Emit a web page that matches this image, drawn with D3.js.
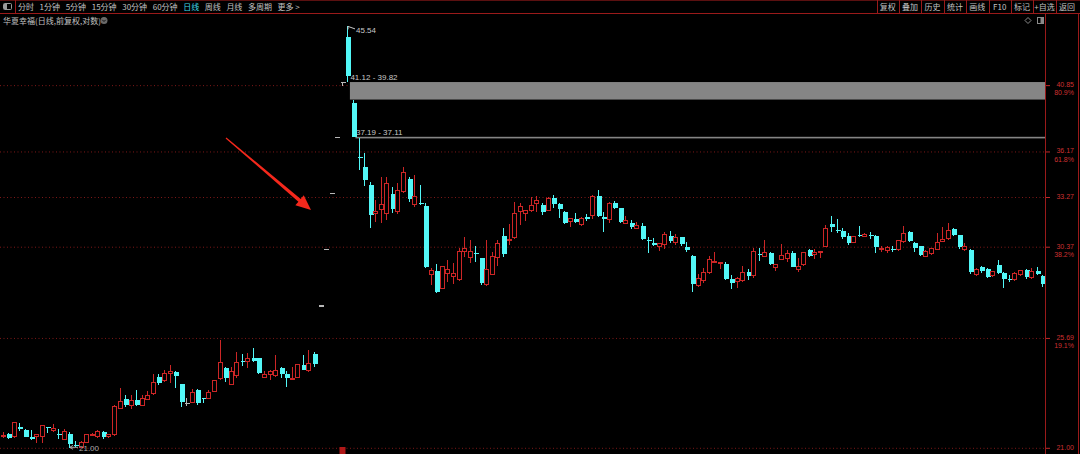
<!DOCTYPE html>
<html><head><meta charset="utf-8">
<script src="https://cdn.jsdelivr.net/npm/d3@7"></script>
<style>
html,body{margin:0;padding:0;background:#000;overflow:hidden}
svg{display:block}
</style></head><body>
<svg id="chart" width="1080" height="454"></svg>
<script>
// ---------- data ----------
const opens = [
21.44,21.56,21.44,21.84,21.73,21.44,21.44,21.44,21.83,21.68,
21.57,21.33,21.55,21.14,21.05,21.24,21.51,21.44,21.64,21.47,
21.53,22.58,23.00,22.73,22.94,22.73,22.98,23.21,23.95,23.76,
24.08,24.17,23.62,22.81,22.84,23.37,23.02,23.02,23.30,23.87,
24.34,23.62,23.99,24.64,24.64,24.80,24.77,23.93,24.05,23.99,
24.34,24.06,23.86,23.92,24.47,24.21,24.97,27.27,30.26,33.53,
37.16,41.12,44.64,39.55,35.86,35.20,34.05,32.28,32.52,32.28,
33.49,32.42,33.63,34.40,32.82,32.92,32.76,28.87,29.09,28.17,
28.95,28.77,28.60,30.13,29.82,30.04,29.76,28.34,28.90,29.82,
31.02,30.72,30.93,32.42,32.33,32.48,32.92,32.82,32.48,33.22,
32.88,32.42,31.83,31.99,31.64,32.09,32.17,33.36,32.13,31.97,
32.92,32.62,31.74,31.77,31.45,31.58,30.78,30.63,30.41,30.50,
31.02,30.65,30.93,30.37,29.89,28.29,28.55,28.99,29.56,29.49,
29.44,28.65,28.51,28.55,29.04,28.81,29.98,29.85,30.04,29.27,
29.72,29.76,30.04,29.17,29.40,30.22,29.95,30.10,30.41,31.70,
31.35,31.31,31.00,30.63,31.08,30.97,31.08,31.02,30.24,30.18,
30.29,30.22,30.69,31.25,30.63,30.41,29.85,30.00,30.27,30.69,
30.84,31.39,31.04,30.22,30.22,28.87,29.31,29.18,28.81,29.40,
28.99,28.65,28.60,28.87,29.13,28.72,29.09,28.81];
const highs = [
21.64,21.60,22.04,22.01,21.75,21.71,21.57,21.91,21.83,21.97,
21.77,21.77,21.64,21.28,21.27,21.57,21.60,21.71,21.68,21.57,
22.73,23.46,23.15,23.17,23.36,23.17,23.32,24.08,24.08,24.26,
24.47,24.20,23.63,23.05,23.41,23.40,23.05,23.37,23.80,25.62,
24.36,24.39,25.07,24.97,25.00,25.23,24.80,24.20,24.24,24.92,
24.36,24.20,24.39,24.51,24.92,25.15,25.07,27.27,30.26,33.53,
37.16,41.12,45.54,39.82,37.11,36.12,34.25,33.12,34.57,34.57,
33.94,34.15,35.17,34.57,34.68,34.05,32.96,29.24,29.45,29.35,
29.69,29.49,30.31,30.93,30.78,30.44,29.80,30.78,30.13,30.78,
31.45,31.70,33.02,32.96,32.52,33.32,33.36,32.92,33.29,33.42,
32.92,32.46,32.03,32.33,32.08,32.27,33.41,33.73,32.38,33.02,
33.08,32.66,32.14,31.93,31.83,31.77,30.93,30.88,30.63,31.22,
31.29,31.10,30.97,30.65,29.93,28.92,29.22,29.89,30.13,29.58,
29.58,28.87,28.74,29.35,29.18,30.35,30.35,30.78,30.13,29.44,
30.54,30.22,30.18,29.76,30.13,30.26,30.26,30.13,31.64,32.17,
31.97,31.45,31.20,31.00,31.58,31.16,31.25,31.06,30.41,30.44,
30.46,30.74,31.58,31.29,30.65,30.44,30.22,30.35,31.20,31.54,
31.74,31.45,31.06,30.63,30.26,29.22,29.35,29.22,29.09,29.67,
29.01,28.87,29.04,29.09,29.17,29.22,29.31,28.87];
const lows = [
21.41,21.37,21.41,21.69,21.43,21.31,21.20,21.21,21.61,21.64,
21.37,21.31,21.00,21.04,21.02,21.21,21.47,21.41,21.37,21.41,
21.48,22.56,22.67,22.58,22.69,22.70,22.95,23.17,23.60,23.71,
23.66,23.44,22.64,22.70,22.81,22.74,22.81,22.99,23.27,23.80,
23.73,23.59,23.90,24.43,24.34,24.61,24.06,23.87,23.80,23.95,
23.87,23.51,23.86,23.89,24.23,24.17,24.36,27.27,30.26,33.53,
37.16,40.85,41.12,37.19,34.99,33.98,31.45,31.83,31.74,31.93,
32.32,32.28,33.53,33.02,32.72,32.82,29.22,28.34,27.94,28.13,
28.47,28.39,28.56,29.85,29.52,29.58,28.34,28.29,28.87,29.35,
29.85,30.50,30.82,31.64,31.89,32.42,32.42,32.22,32.44,32.62,
32.03,31.70,31.54,31.77,31.58,31.87,31.97,32.13,31.25,31.74,
32.56,31.74,31.67,31.39,31.39,30.78,30.04,30.41,30.18,30.26,
30.63,30.50,30.44,30.13,27.99,28.25,28.46,28.92,29.49,29.17,
28.60,28.12,28.17,28.51,28.60,28.69,29.63,29.82,29.40,29.09,
29.67,29.58,29.28,29.04,29.36,29.82,29.71,29.76,30.37,31.25,
31.20,30.82,30.50,30.59,30.93,30.93,30.84,30.04,30.13,30.07,
30.13,30.18,30.63,30.69,30.13,29.89,29.82,29.95,30.22,30.65,
30.78,31.00,30.26,30.18,28.92,28.81,28.99,28.69,28.77,28.90,
28.17,28.51,28.55,28.81,28.64,28.64,28.87,28.22];
const closes = [
21.51,21.40,22.00,21.75,21.44,21.37,21.55,21.88,21.80,21.77,
21.51,21.64,21.17,21.07,21.24,21.55,21.53,21.64,21.44,21.55,
22.66,22.90,22.73,22.94,22.73,23.00,23.12,23.71,23.68,24.09,
24.17,23.96,22.88,22.81,23.27,22.81,22.98,23.27,23.76,24.59,
23.87,24.17,24.57,24.61,24.77,24.66,24.09,24.05,24.17,24.20,
24.06,23.90,23.89,24.47,24.25,24.54,24.50,27.27,30.26,33.53,
37.16,41.12,41.60,37.21,35.75,34.36,32.22,32.42,32.82,34.11,
32.56,33.73,34.82,33.16,33.32,32.86,29.28,29.09,27.99,29.29,
29.13,28.92,30.13,30.31,30.13,29.98,28.43,29.17,29.85,30.56,
29.98,30.78,32.33,32.72,32.46,32.80,33.06,32.38,33.18,32.86,
32.56,31.74,31.99,31.81,32.03,31.97,33.36,32.17,31.97,32.88,
32.66,31.83,31.87,31.51,31.58,30.82,30.72,30.48,30.56,31.07,
30.72,30.93,30.54,30.22,28.39,28.65,28.99,29.67,29.61,29.52,
28.64,28.43,28.65,28.99,28.81,30.13,29.93,30.07,29.45,29.40,
29.89,30.00,29.31,29.31,30.07,29.91,30.07,30.13,31.45,31.54,
31.29,30.93,30.59,30.97,31.05,31.08,31.05,30.37,30.29,30.35,
30.26,30.72,31.12,30.74,30.31,29.95,30.13,30.31,30.65,30.78,
31.29,31.06,30.37,30.41,29.04,29.17,29.08,28.74,29.04,28.95,
28.64,28.60,28.92,29.08,28.74,29.04,28.92,28.38];
const days = opens.map((_, i) => "D" + (i + 1));

const priceTicks = [40.85, 36.17, 33.27, 30.37, 25.69, 21.00];
const pctLabels  = ["80.9%", "61.8%", "", "38.2%", "19.1%", ""];
const gapHighs = [41.12, 37.19];
const gapLows  = [39.82, 37.11];
const gapStartDay = [62, 63];
const maxPrice = 45.54, minPrice = 21.00;
const maxDay = 62, minDay = 12, eventDay = 61;

const periodTabs = ["分时","1分钟","5分钟","15分钟","30分钟","60分钟","日线","周线","月线","多周期","更多 >"];
const activeTab = "日线";
const toolButtons = ["复权","叠加","历史","统计","画线","F10","标记","+自选","返回"];
const titleText = "华夏幸福(日线,前复权,对数)";

// ---------- drawing ----------
const W = 1080, H = 454, plotRight = 1045;
const RED = "#cc2626", CYAN = "#52f7f7", GRAY = "#b8b8b8", LINE_RED = "#9a1a1a";
const FONT_CJK = "'Noto Sans CJK SC','Noto Sans',sans-serif";
const FONT_NUM = "'Liberation Sans','DejaVu Sans',sans-serif";

const svg = d3.select("#chart");
svg.append("rect").attr("width", W).attr("height", H).attr("fill", "#000");

const x = d3.scaleBand().domain(days).range([0, plotRight]).paddingInner(0.28).paddingOuter(0.14);
const y = d3.scaleLog().domain([minPrice, maxPrice]).range([448.3, 26.4]);
const bw = x.bandwidth();
const cx = i => x(days[i]) + bw / 2;

// grid lines at Fibonacci levels
svg.append("g").selectAll("line").data(priceTicks).join("line")
  .attr("x1", 0).attr("x2", plotRight)
  .attr("y1", d => y(d)).attr("y2", d => y(d))
  .attr("stroke", "#7e1818").attr("stroke-width", 1)
  .attr("stroke-dasharray", "1,2.5");

// gap boxes
const gaps = gapHighs.map((h, k) => ({h, l: gapLows[k], d: gapStartDay[k]}));
svg.append("g").selectAll("rect").data(gaps).join("rect")
  .attr("x", d => cx(d.d) + bw / 2 + 0.5)
  .attr("y", d => y(d.h))
  .attr("width", d => plotRight - (cx(d.d) + bw / 2 + 0.5))
  .attr("height", d => Math.max(1.6, y(d.l) - y(d.h)))
  .attr("fill", "#858585");
svg.append("g").selectAll("text").data(gaps).join("text")
  .attr("x", d => cx(d.d) + 3)
  .attr("y", d => y(d.h) - 2)
  .attr("fill", "#c8c8c8").attr("font-size", 8).attr("font-family", FONT_NUM)
  .text(d => d.h.toFixed(2) + " - " + d.l.toFixed(2));

// candles
const candles = days.map((d, i) => ({i, o: opens[i], h: highs[i], l: lows[i], c: closes[i]}));
const colorOf = d => d.c > d.o ? RED : (d.c < d.o ? CYAN : GRAY);
const g = svg.append("g").attr("shape-rendering", "crispEdges");

candles.forEach(d => {
  const xc = Math.round(cx(d.i));
  const col = colorOf(d);
  const yTop = y(Math.max(d.o, d.c)), yBot = y(Math.min(d.o, d.c));
  const yH = y(d.h), yL = y(d.l);
  if (d.c > d.o) {
    if (yTop - yH > 0.3) g.append("line").attr("x1", xc + 0.5).attr("x2", xc + 0.5).attr("y1", yH).attr("y2", yTop).attr("stroke", col);
    if (yL - yBot > 0.3) g.append("line").attr("x1", xc + 0.5).attr("x2", xc + 0.5).attr("y1", yBot).attr("y2", yL).attr("stroke", col);
    g.append("rect").attr("x", xc - 1.5).attr("y", yTop)
      .attr("width", 4).attr("height", Math.max(1, yBot - yTop))
      .attr("fill", "#000").attr("stroke", col).attr("stroke-width", 1);
  } else if (d.c < d.o) {
    g.append("line").attr("x1", xc + 0.5).attr("x2", xc + 0.5).attr("y1", yH).attr("y2", yL).attr("stroke", col);
    g.append("rect").attr("x", xc - 1.5).attr("y", yTop)
      .attr("width", 5).attr("height", Math.max(1, yBot - yTop))
      .attr("fill", col);
  } else {
    if (yL - yH > 0.3) g.append("line").attr("x1", xc + 0.5).attr("x2", xc + 0.5).attr("y1", yH).attr("y2", yL).attr("stroke", col);
    g.append("rect").attr("x", xc - 1.5).attr("y", yTop - 0.5)
      .attr("width", 5).attr("height", 1.2).attr("fill", col);
  }
});

// max marker
{
  const xc = Math.round(cx(maxDay)) + 1, yh = y(maxPrice);
  svg.append("path").attr("d", `M${xc},${yh + 3} L${xc},${yh} L${xc + 7},${yh + 2.5}`)
    .attr("fill", "none").attr("stroke", "#c8c8c8").attr("stroke-width", 1);
  svg.append("text").attr("x", xc + 8).attr("y", yh + 6.5)
    .attr("fill", "#c8c8c8").attr("font-size", 8).attr("font-family", FONT_NUM)
    .text(maxPrice.toFixed(2));
}
// min marker
{
  const xc = Math.round(cx(minDay)) + 1, yl = y(minPrice);
  svg.append("line").attr("x1", xc).attr("x2", xc + 8).attr("y1", yl - 1).attr("y2", yl - 1)
    .attr("stroke", "#a8a8a8");
  svg.append("path").attr("d", `M${xc},${yl - 1} L${xc + 3},${yl - 3} M${xc},${yl - 1} L${xc + 3},${yl + 1}`)
    .attr("stroke", "#a8a8a8").attr("fill", "none");
  svg.append("text").attr("x", xc + 9).attr("y", yl + 3)
    .attr("fill", "#a8a8a8").attr("font-size", 8).attr("font-family", FONT_NUM)
    .text(minPrice.toFixed(2));
}
// event marker at bottom
svg.append("rect").attr("x", Math.round(cx(eventDay)) - 2.5).attr("y", 447)
  .attr("width", 6).attr("height", 7).attr("fill", "#b01818");

// right axis
svg.append("line").attr("x1", plotRight + 0.5).attr("x2", plotRight + 0.5).attr("y1", 13).attr("y2", H)
  .attr("stroke", LINE_RED);
svg.append("line").attr("x1", 1078.5).attr("x2", 1078.5).attr("y1", 13).attr("y2", H)
  .attr("stroke", LINE_RED);
const ax = svg.append("g");
priceTicks.forEach((p, k) => {
  ax.append("line").attr("x1", plotRight + 1).attr("x2", plotRight + 5)
    .attr("y1", y(p)).attr("y2", y(p)).attr("stroke", "#c02828");
  ax.append("text").attr("x", 1074).attr("y", y(p) + 1.4)
    .attr("text-anchor", "end").attr("fill", "#cc3030")
    .attr("font-size", 7).attr("font-family", FONT_NUM).text(p.toFixed(2));
  if (pctLabels[k]) ax.append("text").attr("x", 1074).attr("y", y(p) + 9.6)
    .attr("text-anchor", "end").attr("fill", "#cc3030")
    .attr("font-size", 7).attr("font-family", FONT_NUM).text(pctLabels[k]);
});

// annotation arrow
{
  const tail = [226, 138], tip = [311, 210];
  const dx = tip[0] - tail[0], dy = tip[1] - tail[1], len = Math.hypot(dx, dy);
  const ux = dx / len, uy = dy / len, px = -uy, py = ux;
  const hl = 15, hw = 6.5, w0 = 0.6, w1 = 1.8;
  const bx = tip[0] - ux * hl, by = tip[1] - uy * hl;
  const pts = [
    [tail[0] + px * w0, tail[1] + py * w0],
    [bx + px * w1, by + py * w1],
    [bx + px * hw, by + py * hw],
    tip,
    [bx - px * hw, by - py * hw],
    [bx - px * w1, by - py * w1],
    [tail[0] - px * w0, tail[1] - py * w0]
  ];
  svg.append("polygon").attr("points", pts.map(p => p.join(",")).join(" "))
    .attr("fill", "#f4281c");
}

// top toolbar
const tb = svg.append("g");
tb.append("line").attr("x1", 0).attr("x2", W).attr("y1", 13.5).attr("y2", 13.5).attr("stroke", LINE_RED);
tb.append("line").attr("x1", 0).attr("x2", W).attr("y1", 0.5).attr("y2", 0.5).attr("stroke", "#5a1010");
tb.append("line").attr("x1", 15.5).attr("x2", 15.5).attr("y1", 0).attr("y2", 13.5).attr("stroke", LINE_RED);
tb.append("rect").attr("x", 3.5).attr("y", 3.5).attr("width", 8).attr("height", 6)
  .attr("fill", "none").attr("stroke", "#9a9a9a").attr("rx", 1);
tb.append("rect").attr("x", 4).attr("y", 4).attr("width", 3).attr("height", 5).attr("fill", "#9a9a9a");

let tx = 18;
periodTabs.forEach(t => {
  const el = tb.append("text").attr("x", tx).attr("y", 10)
    .attr("fill", t === activeTab ? "#3fd8e8" : "#c0c0c0")
    .attr("font-size", 8).attr("font-family", FONT_CJK).text(t);
  tx += el.node().getComputedTextLength() + 5.6;
});

const bStart = 876.5, bW = 22.4;
toolButtons.forEach((t, k) => {
  const x0 = bStart + k * bW;
  tb.append("line").attr("x1", Math.round(x0) + 0.5).attr("x2", Math.round(x0) + 0.5)
    .attr("y1", 0).attr("y2", 13.5).attr("stroke", LINE_RED);
  tb.append("text").attr("x", x0 + bW / 2).attr("y", 10).attr("text-anchor", "middle")
    .attr("fill", "#c0c0c0").attr("font-size", 8).attr("font-family", FONT_CJK).text(t);
});

// title
svg.append("text").attr("x", 3).attr("y", 23.5)
  .attr("fill", "#c0c0c0").attr("font-size", 8).attr("font-family", FONT_CJK).text(titleText);
svg.append("circle").attr("cx", 104).attr("cy", 20.5).attr("r", 3.5).attr("fill", "#6a6a6a");
svg.append("path").attr("d", "M102.3,19.8 L104,21.5 L105.7,19.8").attr("stroke", "#111").attr("fill", "none");

// small icons near the axis
svg.append("path").attr("d", "M1028,17.5 L1031,20.5 L1028,23.5 L1025,20.5 Z").attr("fill", "none").attr("stroke", "#8a8a8a");
svg.append("rect").attr("x", 1037.5).attr("y", 17.5).attr("width", 6).attr("height", 6).attr("fill", "none").attr("stroke", "#8a8a8a");
svg.append("rect").attr("x", 1040.5).attr("y", 18).attr("width", 3).attr("height", 5).attr("fill", "#8a8a8a");
</script>
</body></html>
